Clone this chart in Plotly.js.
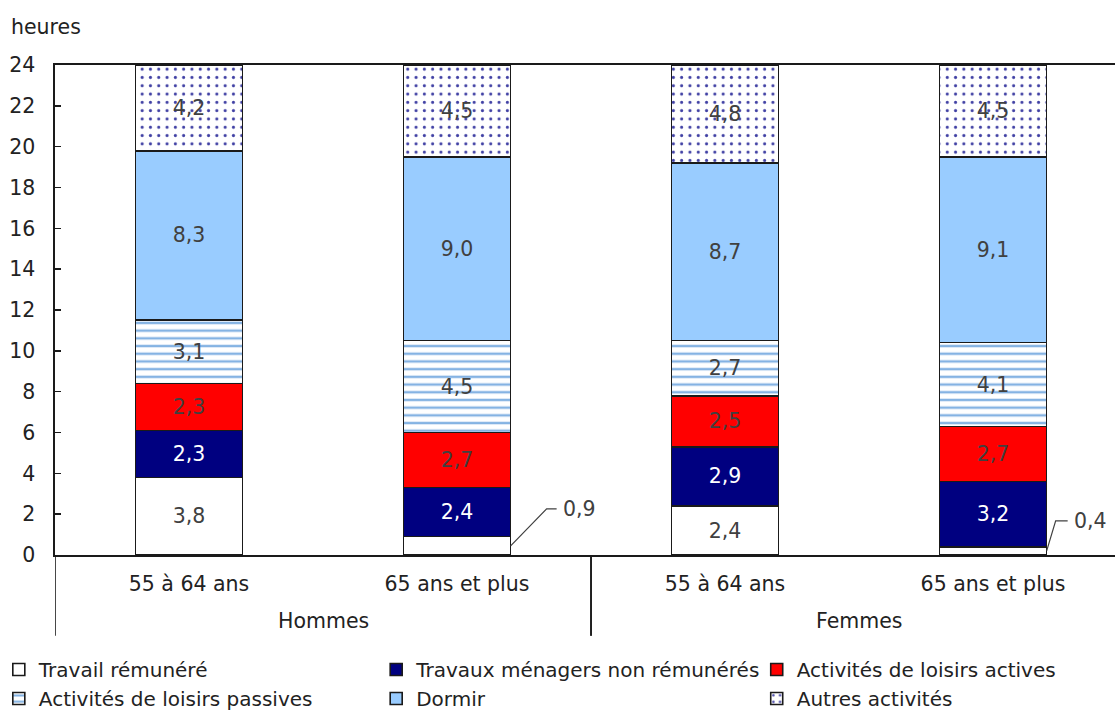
<!DOCTYPE html>
<html>
<head>
<meta charset="utf-8">
<script src="https://cdn.plot.ly/plotly-3.0.1.min.js"></script>
<style>html,body{margin:0;padding:0;background:#fff;}#chart{width:1115px;height:713px;}</style>
</head>
<body>
<div id="chart"></div>
<script>
// ---- data ----
const categories = ['55 à 64 ans', '65 ans et plus', '55 à 64 ans', '65 ans et plus'];
const groups = ['Hommes', 'Hommes', 'Femmes', 'Femmes'];
const travail = [3.8, 0.9, 2.4, 0.4];
const menagers = [2.3, 2.4, 2.9, 3.2];
const actives = [2.3, 2.7, 2.5, 2.7];
const passives = [3.1, 4.5, 2.7, 4.1];
const dormir = [8.3, 9.0, 8.7, 9.1];
const autres = [4.2, 4.5, 4.8, 4.5];
const seriesNames = ['Travail rémunéré', 'Travaux ménagers non rémunérés', 'Activités de loisirs actives',
                     'Activités de loisirs passives', 'Dormir', 'Autres activités'];
const yTicks = [0, 2, 4, 6, 8, 10, 12, 14, 16, 18, 20, 22, 24];

// ---- helpers ----
const FONT = 'DejaVu Sans, Verdana, sans-serif';
const FS = 20.5;
const LFS = 20;
const x = categories.map((_, i) => i);
const fmt = v => v.toFixed(1).replace('.', ',');
const MIN_INSIDE = 1; // values below this are labelled outside with a leader line
const labels = arr => arr.map(v => v < MIN_INSIDE ? '' : fmt(v));

function bar(name, vals, marker, textColor, legend) {
  return {
    type: 'bar', name: name, x: x, y: vals,
    text: labels(vals), textposition: 'inside', insidetextanchor: 'middle',
    textangle: 0, constraintext: 'none',
    textfont: {family: FONT, size: FS, color: textColor},
    marker: Object.assign({line: {color: '#1a1a1a', width: 1.6}}, marker),
    legend: legend, hoverinfo: 'name+y'
  };
}

const traces = [
  bar(seriesNames[0], travail, {color: '#ffffff'}, '#404040', 'legend'),
  bar(seriesNames[1], menagers, {color: '#000080'}, '#ffffff', 'legend2'),
  bar(seriesNames[2], actives, {color: '#ff0000'}, '#404040', 'legend3'),
  bar(seriesNames[3], passives, {color: '#85b3e3',
      pattern: {shape: '-', size: 7.7, solidity: 0.32, fgcolor: '#85b3e3', bgcolor: '#ffffff', fillmode: 'replace'}},
      '#404040', 'legend'),
  bar(seriesNames[4], dormir, {color: '#99ccff'}, '#404040', 'legend2'),
  bar(seriesNames[5], autres, {color: '#4040a4',
      pattern: {shape: '.', size: 8.3, solidity: 0.11, fgcolor: '#4040a4', bgcolor: '#ffffff', fillmode: 'replace'}},
      '#404040', 'legend3')
];

// leader lines for the small values (pixel offsets: [dx1, dy1, dx2])
const leaderGeom = {1: [36, 37, 46], 3: [9, 30, 21]};
const shapes = [];
const annotations = [];
travail.forEach((v, i) => {
  if (v < MIN_INSIDE) {
    const g = leaderGeom[i] || [30, 30, 40];
    shapes.push({
      type: 'path', xref: 'x', yref: 'y', xsizemode: 'pixel', ysizemode: 'pixel',
      xanchor: i + 0.2, yanchor: v / 2,
      path: `M0,0L${g[0]},${g[1]}L${g[2]},${g[1]}`,
      line: {color: '#404040', width: 1.2}
    });
    annotations.push({
      xref: 'x', yref: 'y', x: i + 0.2, y: v / 2, xshift: g[2] + 4, yshift: g[1],
      xanchor: 'left', yanchor: 'middle', showarrow: false, text: fmt(v),
      font: {family: FONT, size: FS, color: '#404040'}
    });
  }
});

// group labels and dividers below the axis
const groupNames = [...new Set(groups)];
groupNames.forEach(gn => {
  const idx = x.filter(i => groups[i] === gn);
  const mid = (idx[0] + idx[idx.length - 1]) / 2;
  annotations.push({
    xref: 'x', yref: 'paper', x: mid, y: -0.135, xanchor: 'center', yanchor: 'middle',
    showarrow: false, text: gn, font: {family: FONT, size: FS, color: '#222'}
  });
  shapes.push({type: 'line', xref: 'x', yref: 'paper', x0: idx[0] - 0.5, x1: idx[0] - 0.5,
               y0: 0, y1: -0.165, line: {color: '#1a1a1a', width: 1.6}});
  shapes.push({type: 'line', xref: 'x', yref: 'paper', x0: idx[idx.length - 1] + 0.5, x1: idx[idx.length - 1] + 0.5,
               y0: 0, y1: -0.165, line: {color: '#1a1a1a', width: 1.6}});
});

annotations.push({
  xref: 'paper', yref: 'paper', x: -0.043, y: 1.078, xanchor: 'left', yanchor: 'middle',
  showarrow: false, text: 'heures', font: {family: FONT, size: FS, color: '#222'}
});

const legendBase = {
  orientation: 'v', traceorder: 'normal', yanchor: 'top', y: -0.194, xanchor: 'left',
  font: {family: FONT, size: LFS, color: '#222'}, bgcolor: 'rgba(0,0,0,0)',
  tracegroupgap: 0, itemwidth: 30
};

const layout = {
  width: 1115, height: 713,
  margin: {l: 55, r: 0, t: 65, b: 158, pad: 0, autoexpand: false},
  paper_bgcolor: '#ffffff', plot_bgcolor: '#ffffff',
  barmode: 'stack', bargap: 0.6,
  separators: ', ',
  font: {family: FONT, size: FS, color: '#222'},
  showlegend: true,
  xaxis: {
    type: 'linear', range: [-0.5, 3.455], tickvals: x, ticktext: categories,
    showline: true, linecolor: '#1a1a1a', linewidth: 1.6, mirror: true,
    ticks: '', showgrid: false, zeroline: false, ticklabelstandoff: 10,
    tickfont: {family: FONT, size: FS, color: '#222'}
  },
  yaxis: {
    range: [0, 24], tickvals: yTicks, ticktext: yTicks.map(String),
    showline: true, linecolor: '#1a1a1a', linewidth: 1.6, mirror: false,
    ticks: 'inside', ticklen: 6, tickwidth: 1.5, tickcolor: '#1a1a1a',
    showgrid: false, zeroline: false, ticklabelstandoff: 14,
    tickfont: {family: FONT, size: FS, color: '#222'}
  },
  legend: Object.assign({}, legendBase, {x: -0.053}),
  legend2: Object.assign({}, legendBase, {x: 0.303}),
  legend3: Object.assign({}, legendBase, {x: 0.662}),
  shapes: shapes,
  annotations: annotations
};

Plotly.newPlot('chart', traces, layout, {displayModeBar: false, staticPlot: true});
</script>
</body>
</html>
